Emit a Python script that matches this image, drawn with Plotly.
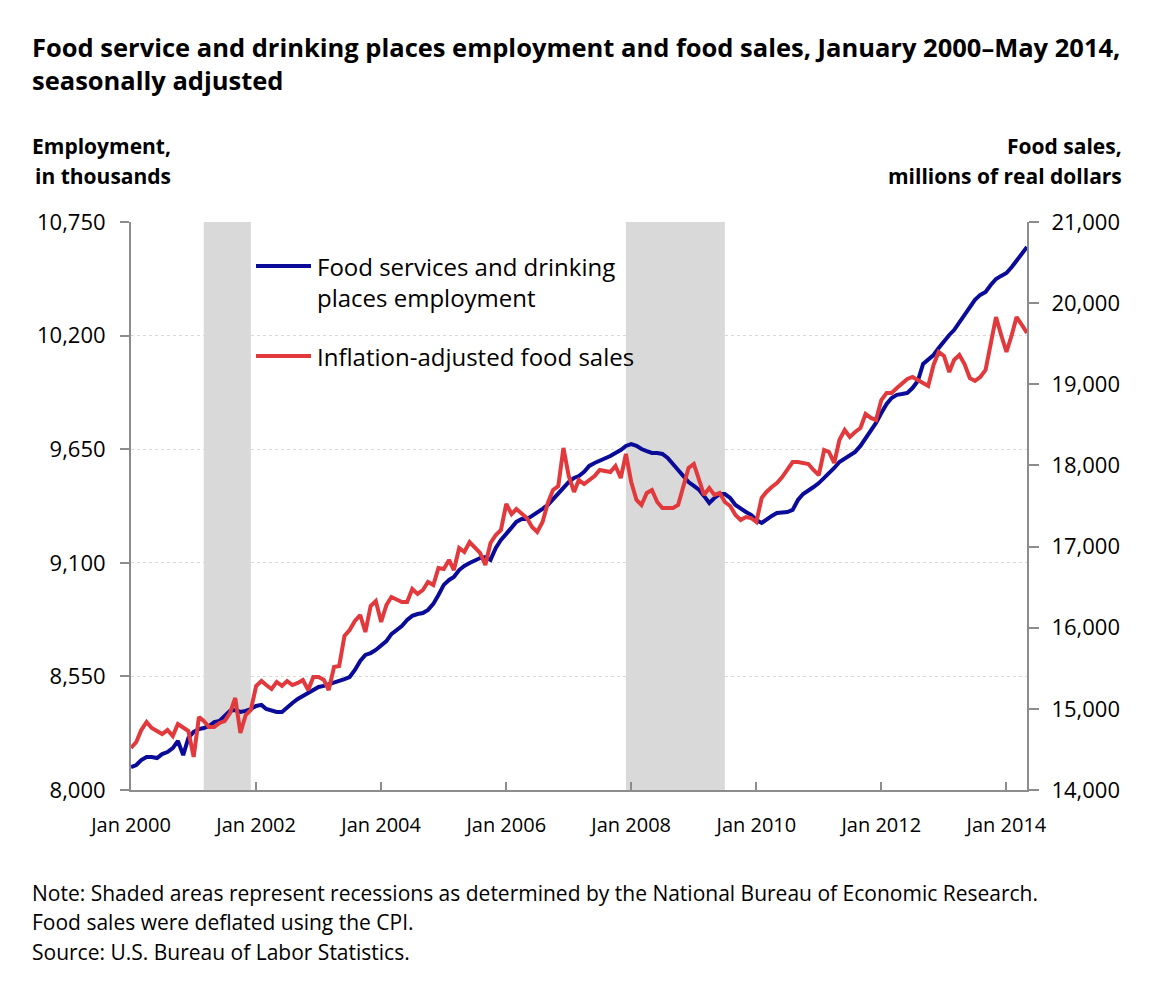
import plotly.graph_objects as go
import pandas as pd

# monthly, Jan 2000 - May 2014
months = pd.date_range("2000-01-01", "2014-05-01", freq="MS")

# Food services and drinking places employment, thousands (left axis)
employment = [
    8111, 8121, 8145, 8160, 8160, 8155, 8174, 8184, 8203, 8237, 8169, 8252,
    8281, 8295, 8300, 8310, 8329, 8334, 8358, 8383, 8387, 8378, 8383, 8392,
    8407, 8412, 8392, 8383, 8378, 8378, 8402, 8421, 8441, 8455, 8475, 8489,
    8499, 8504, 8513, 8523, 8528, 8537, 8547, 8581, 8625, 8654, 8663, 8678,
    8702, 8721, 8755, 8775, 8794, 8823, 8843, 8852, 8857, 8872, 8901, 8944,
    8993, 9017, 9031, 9065, 9085, 9099, 9109, 9123, 9128, 9114, 9172, 9211,
    9240, 9269, 9298, 9312, 9312, 9327, 9341, 9361, 9380, 9409, 9438, 9467,
    9491, 9511, 9520, 9540, 9569, 9583, 9593, 9603, 9617, 9632, 9646, 9666,
    9675, 9666, 9651, 9641, 9632, 9632, 9627, 9608, 9574, 9549, 9520, 9491,
    9472, 9453, 9424, 9390, 9414, 9433, 9433, 9414, 9380, 9361, 9346, 9332,
    9307, 9293, 9312, 9327, 9341, 9346, 9346, 9356, 9404, 9433, 9453, 9467,
    9486, 9511, 9530, 9559, 9588, 9603, 9622, 9637, 9666, 9700, 9738, 9777,
    9825, 9869, 9898, 9913, 9917, 9922, 9946, 9980, 10063, 10082, 10106, 10140,
    10174, 10203, 10227, 10266, 10295, 10334, 10373, 10397, 10411, 10445, 10474, 10489,
    10503, 10532, 10561, 10595, 10629,
]

# Inflation-adjusted food sales, millions of real dollars (right axis)
food_sales = [
    14518, 14592, 14739, 14838, 14764, 14727, 14690, 14739, 14665, 14813, 14764, 14727,
    14407, 14900, 14850, 14776, 14776, 14826, 14850, 14949, 15134, 14702, 14924, 14986,
    15282, 15343, 15294, 15245, 15331, 15282, 15343, 15294, 15319, 15356, 15232, 15393,
    15393, 15356, 15232, 15516, 15528, 15898, 15972, 16083, 16157, 15947, 16268, 16329,
    16070, 16280, 16379, 16354, 16317, 16317, 16477, 16416, 16465, 16563, 16526, 16736,
    16724, 16835, 16711, 16982, 16933, 17056, 16982, 16921, 16773, 17044, 17143, 17204,
    17525, 17401, 17463, 17414, 17352, 17241, 17180, 17303, 17537, 17697, 17746, 18215,
    17870, 17673, 17820, 17771, 17820, 17870, 17944, 17931, 17919, 17993, 17845, 18141,
    17796, 17574, 17512, 17660, 17697, 17549, 17475, 17475, 17475, 17512, 17759, 17968,
    18018, 17820, 17636, 17722, 17636, 17660, 17549, 17500, 17389, 17327, 17364, 17352,
    17303, 17599, 17673, 17734, 17783, 17857, 17944, 18042, 18042, 18030, 18018, 17944,
    17882, 18190, 18166, 18030, 18313, 18437, 18350, 18412, 18461, 18634, 18585, 18560,
    18806, 18893, 18893, 18954, 19004, 19065, 19090, 19053, 19028, 18979, 19238, 19398,
    19349, 19151, 19299, 19361, 19250, 19077, 19041, 19090, 19176, 19484, 19829, 19607,
    19398, 19607, 19829, 19731, 19632,
]

# NBER recessions (start, end of shading)
recessions = [("2001-03-01", "2001-12-01"), ("2007-12-01", "2009-07-01")]

left_ticks = [8000, 8550, 9100, 9650, 10200, 10750]
right_ticks = [14000, 15000, 16000, 17000, 18000, 19000, 20000, 21000]
x_tickvals = ["2000-01-01", "2002-01-01", "2004-01-01", "2006-01-01",
              "2008-01-01", "2010-01-01", "2012-01-01", "2014-01-01"]
x_ticktext = ["Jan 2000", "Jan 2002", "Jan 2004", "Jan 2006",
              "Jan 2008", "Jan 2010", "Jan 2012", "Jan 2014"]

BLUE = "#0b0b99"
RED = "#e2393d"
AXIS = "#8c8c8c"
FONT = "Open Sans, Lato, sans-serif"

fig = go.Figure()
fig.add_trace(go.Scatter(x=months, y=employment, mode="lines", name="Employment",
                         line=dict(color=BLUE, width=4), yaxis="y"))
fig.add_trace(go.Scatter(x=months, y=food_sales, mode="lines", name="Food sales",
                         line=dict(color=RED, width=4), yaxis="y2"))

for start, end in recessions:
    fig.add_shape(type="rect", xref="x", yref="paper", x0=start, x1=end, y0=0, y1=1,
                  fillcolor="#d9d9d9", line_width=0, layer="below")


# page pixel -> paper coords (plot area 131..1027 x 222..790)
def px(x):
    return (x - 131) / 896


def py(y):
    return (790 - y) / 568


# legend drawn by hand
for y_line, col in [(266, BLUE), (356, RED)]:
    fig.add_shape(type="line", xref="paper", yref="paper", x0=px(256), x1=px(311),
                  y0=py(y_line), y1=py(y_line), line=dict(color=col, width=4))

texts = [
    # text, x, y, anchor, size, bold
    ("Food service and drinking places employment and food sales, January 2000\u2013May 2014,<br>"
     "seasonally adjusted", 30, 63, "left", 25.5, True),
    ("Employment,", 30, 146, "left", 21, True),
    ("in thousands", 33, 176, "left", 21, True),
    ("Food sales,", 1124, 146, "right", 21, True),
    ("millions of real dollars", 1124, 176, "right", 21, True),
    ("Food services and drinking<br>places employment", 315, 282, "left", 24, False),
    ("Inflation-adjusted food sales", 315, 356, "left", 24, False),
    ("Note: Shaded areas represent recessions as determined by the National Bureau of Economic Research.", 30, 893, "left", 21, False),
    ("Food sales were deflated using the CPI.", 30, 922, "left", 21, False),
    ("Source: U.S. Bureau of Labor Statistics.", 30, 952, "left", 21, False),
]
for t, x, y, anc, size, bold in texts:
    fig.add_annotation(text="<b>%s</b>" % t.replace("<br>", "</b><br><b>") if bold else t,
                       xref="paper", yref="paper", align=anc,
                       x=px(x), y=py(y), xanchor=anc, yanchor="middle", showarrow=False,
                       font=dict(size=size, color="#000000", family=FONT))

fig.update_layout(
    width=1148, height=988,
    margin=dict(l=123, r=129, t=214, b=206),
    plot_bgcolor="white", paper_bgcolor="white",
    showlegend=False,
    font=dict(family=FONT, size=20, color="#000000"),
    xaxis=dict(type="date", range=["2000-01-01", "2014-05-01"],
               tickvals=x_tickvals, ticktext=x_ticktext,
               ticks="inside", ticklen=8, tickcolor=AXIS, tickwidth=2,
               showline=True, linecolor=AXIS, linewidth=2, showgrid=False,
               ticklabelstandoff=16, tickfont=dict(size=20)),
    yaxis=dict(range=[8000, 10750], tickvals=left_ticks, tickformat=",d",
               ticks="outside", ticklen=9, tickcolor=AXIS, tickwidth=2,
               showline=True, linecolor=AXIS, linewidth=2,
               showgrid=True, gridcolor="#d9d9d9", griddash="dot", gridwidth=1,
               zeroline=False, ticklabelstandoff=10, tickfont=dict(size=22)),
    yaxis2=dict(range=[14000, 21000], tickvals=right_ticks, tickformat=",d",
                overlaying="y", side="right",
                ticks="outside", ticklen=10, tickcolor=AXIS, tickwidth=2,
                showline=True, linecolor=AXIS, linewidth=2, showgrid=False,
                zeroline=False, ticklabelstandoff=8, tickfont=dict(size=22)),
)

fig.write_html("out.html")
